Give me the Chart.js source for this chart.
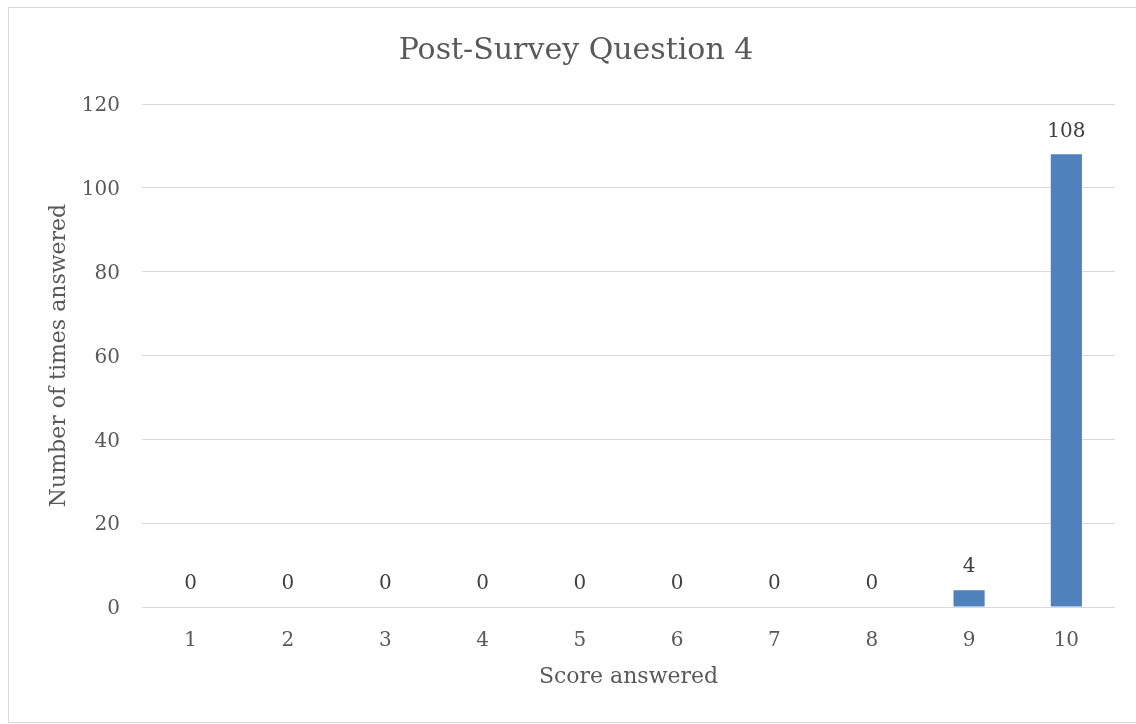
<!DOCTYPE html>
<html>
<head>
<meta charset="utf-8">
<script src="https://cdn.jsdelivr.net/npm/chart.js@4/dist/chart.umd.min.js"></script>
<style>
  html, body { margin: 0; padding: 0; background: #ffffff; }
  canvas { display: block; }
</style>
</head>
<body>
<canvas id="c" width="1136" height="724"></canvas>
<script>
const chartTitle = 'Post-Survey Question 4';
const categories = ['1', '2', '3', '4', '5', '6', '7', '8', '9', '10'];
const counts = [0, 0, 0, 0, 0, 0, 0, 0, 4, 108];
const xAxisTitle = 'Score answered';
const yAxisTitle = 'Number of times answered';
const yMin = 0, yMax = 120, yStep = 20;

const FONT = "'DejaVu Serif', serif";
const TEXT = '#595959';
const GRID = '#D9D9D9';

const framePlugin = {
  id: 'frame',
  beforeDraw(chart) {
    const ctx = chart.ctx;
    ctx.save();
    ctx.fillStyle = '#ffffff';
    ctx.fillRect(0, 0, chart.width, chart.height);
    ctx.strokeStyle = GRID;
    ctx.lineWidth = 1;
    ctx.strokeRect(8.5, 7.5, 1140, 715);
    ctx.fillStyle = TEXT;
    ctx.font = "30px " + FONT;
    ctx.textAlign = 'center';
    ctx.textBaseline = 'middle';
    ctx.fillText(chartTitle, 576, 51);
    ctx.restore();
  }
};

const labelPlugin = {
  id: 'valueLabels',
  afterDatasetsDraw(chart) {
    const ctx = chart.ctx;
    const meta = chart.getDatasetMeta(0);
    ctx.save();
    ctx.fillStyle = '#404040';
    ctx.font = "20px " + FONT;
    ctx.textAlign = 'center';
    ctx.textBaseline = 'middle';
    meta.data.forEach((el, i) => {
      ctx.fillText(String(counts[i]), el.x, el.y - 23);
    });
    ctx.restore();
  }
};

new Chart(document.getElementById('c'), {
  type: 'bar',
  data: {
    labels: categories,
    datasets: [{
      data: counts,
      backgroundColor: '#4F81BD',
      borderWidth: 0,
      categoryPercentage: 1,
      barPercentage: 0.32
    }]
  },
  options: {
    responsive: false,
    animation: false,
    devicePixelRatio: 1,
    layout: { padding: { top: 104, right: 21, bottom: 0, left: 0 } },
    plugins: {
      legend: { display: false },
      title: { display: false },
      tooltip: { enabled: false }
    },
    scales: {
      x: {
        afterFit(s) { s.height = 117; },
        grid: { display: false, drawTicks: false },
        border: { display: false },
        ticks: {
          color: TEXT,
          font: { family: FONT, size: 20 },
          padding: 22,
          maxRotation: 0,
          autoSkip: false
        },
        title: {
          display: true,
          text: xAxisTitle,
          color: TEXT,
          font: { family: FONT, size: 22 },
          padding: { top: 0, bottom: 34 }
        }
      },
      y: {
        min: yMin,
        max: yMax,
        afterFit(s) { s.width = 142; },
        grid: { color: GRID, lineWidth: 1, drawTicks: false },
        border: { display: false },
        ticks: {
          stepSize: yStep,
          color: TEXT,
          font: { family: FONT, size: 20 },
          padding: 22,
          labelOffset: 2
        },
        title: {
          display: true,
          text: yAxisTitle,
          color: TEXT,
          font: { family: FONT, size: 22 },
          padding: { top: 46, bottom: 0 }
        }
      }
    }
  },
  plugins: [framePlugin, labelPlugin]
});
</script>
</body>
</html>
